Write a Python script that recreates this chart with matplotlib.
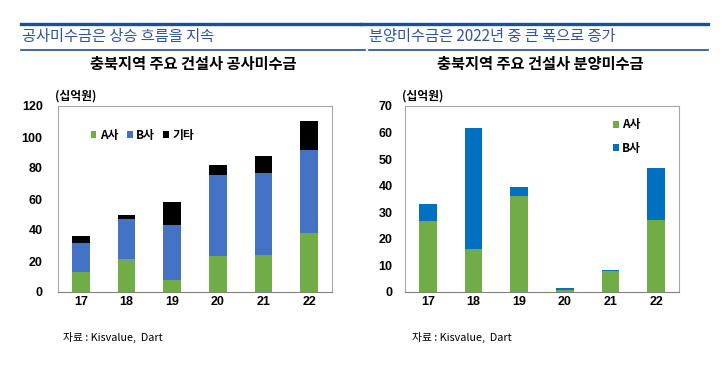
import matplotlib
matplotlib.use('Agg')
import matplotlib.pyplot as plt
from matplotlib.lines import Line2D
import numpy as np

plt.rcParams['font.family'] = ['Noto Sans CJK KR', 'DejaVu Sans']

YEARS = ['17', '18', '19', '20', '21', '22']

# 공사미수금 (십억원)
CON_A = [12.7, 21.3, 8.0, 23.1, 23.9, 38.1]
CON_B = [19.0, 26.1, 35.3, 52.1, 53.0, 53.5]
CON_ETC = [4.3, 2.0, 14.7, 6.5, 11.0, 19.0]

# 분양미수금 (십억원)
SALE_A = [26.8, 16.2, 36.3, 0.9, 8.0, 27.1]
SALE_B = [6.4, 45.5, 3.4, 0.7, 0.3, 19.7]

GREEN = '#70AD47'
BLUE_L = '#4472C4'
BLUE_R = '#0070C0'
HEAD = '#2F5597'
LINE = '#1F4E96'
NUM_FONT = ['Liberation Sans', 'DejaVu Sans']

W, H = 722, 371
fig = plt.figure(figsize=(W / 100, H / 100), dpi=100)


def px(x, y):
    return x / W, 1 - y / H


# header bars and captions
for x0, x1 in [(21, 361), (361, 708)]:
    fig.add_artist(Line2D([x0 / W, x1 / W], [1 - 24 / H] * 2, color=LINE, lw=2.4))
for x0, x1 in [(21, 365), (369, 708)]:
    fig.add_artist(Line2D([x0 / W, x1 / W], [1 - 50 / H] * 2, color=LINE, lw=1.2))

fig.text(*px(22, 37), '공사미수금은 상승 흐름을 지속', color=HEAD, fontsize=11,
         va='center', ha='left')
fig.text(*px(369, 37), '분양미수금은 2022년 중 큰 폭으로 증가', color=HEAD, fontsize=11,
         va='center', ha='left')
fig.text(*px(193, 64), '충북지역 주요 건설사 공사미수금', fontsize=11,
         fontweight='bold', va='center', ha='center')
fig.text(*px(540, 64), '충북지역 주요 건설사 분양미수금', fontsize=11,
         fontweight='bold', va='center', ha='center')
fig.text(*px(55, 96), '(십억원)', fontsize=8.5, fontweight='bold', va='center')
fig.text(*px(402, 96), '(십억원)', fontsize=8.5, fontweight='bold', va='center')
fig.text(*px(63, 337), '자료 : Kisvalue,  Dart', fontsize=7.8, va='center')
fig.text(*px(412, 337), '자료 : Kisvalue,  Dart', fontsize=7.8, va='center')


def style_axes(ax, ymax, step, ypad):
    ax.set_xlim(-0.5, 5.5)
    ax.set_ylim(0, ymax)
    ax.set_yticks(np.arange(0, ymax + 1, step))
    ax.set_xticks(range(len(YEARS)))
    ax.set_xticklabels(YEARS)
    ax.tick_params(axis='x', length=0, pad=3)
    ax.tick_params(axis='y', length=0, pad=ypad)
    for lab in ax.get_xticklabels() + ax.get_yticklabels():
        lab.set_fontweight('bold')
        lab.set_family(NUM_FONT)
        lab.set_fontsize(9)
    for s in ax.spines.values():
        s.set_color('#A6A6A6')
        s.set_linewidth(0.8)
    ax.spines['bottom'].set_color('#808080')


x = np.arange(len(YEARS))
bw = 0.39

# left: 공사미수금
ax1 = fig.add_axes([58 / W, 1 - 292 / H, 274 / W, 186 / H])
a = np.array(CON_A)
b = np.array(CON_B)
ax1.bar(x, a, bw, color=GREEN, label='A사')
ax1.bar(x, b, bw, bottom=a, color=BLUE_L, label='B사')
ax1.bar(x, CON_ETC, bw, bottom=a + b, color='black', label='기타')
style_axes(ax1, 120, 20, 11)
ax1.legend(loc='upper left', bbox_to_anchor=(0.08, 0.935), ncol=3, frameon=False,
           handlelength=0.5, handleheight=0.5, handletextpad=0.3,
           columnspacing=0.7, prop={'size': 8.5, 'weight': 'bold'})

# right: 분양미수금
ax2 = fig.add_axes([405 / W, 1 - 292 / H, 274 / W, 186 / H])
ax2.bar(x, SALE_A, bw, color=GREEN, label='A사')
ax2.bar(x, SALE_B, bw, bottom=SALE_A, color=BLUE_R, label='B사')
style_axes(ax2, 70, 10, 9)
ax2.legend(loc='upper left', bbox_to_anchor=(0.72, 0.99), frameon=False,
           handlelength=0.5, handleheight=0.5, handletextpad=0.3,
           labelspacing=0.85, prop={'size': 8.5, 'weight': 'bold'})

fig.savefig('out.png', dpi=100)
